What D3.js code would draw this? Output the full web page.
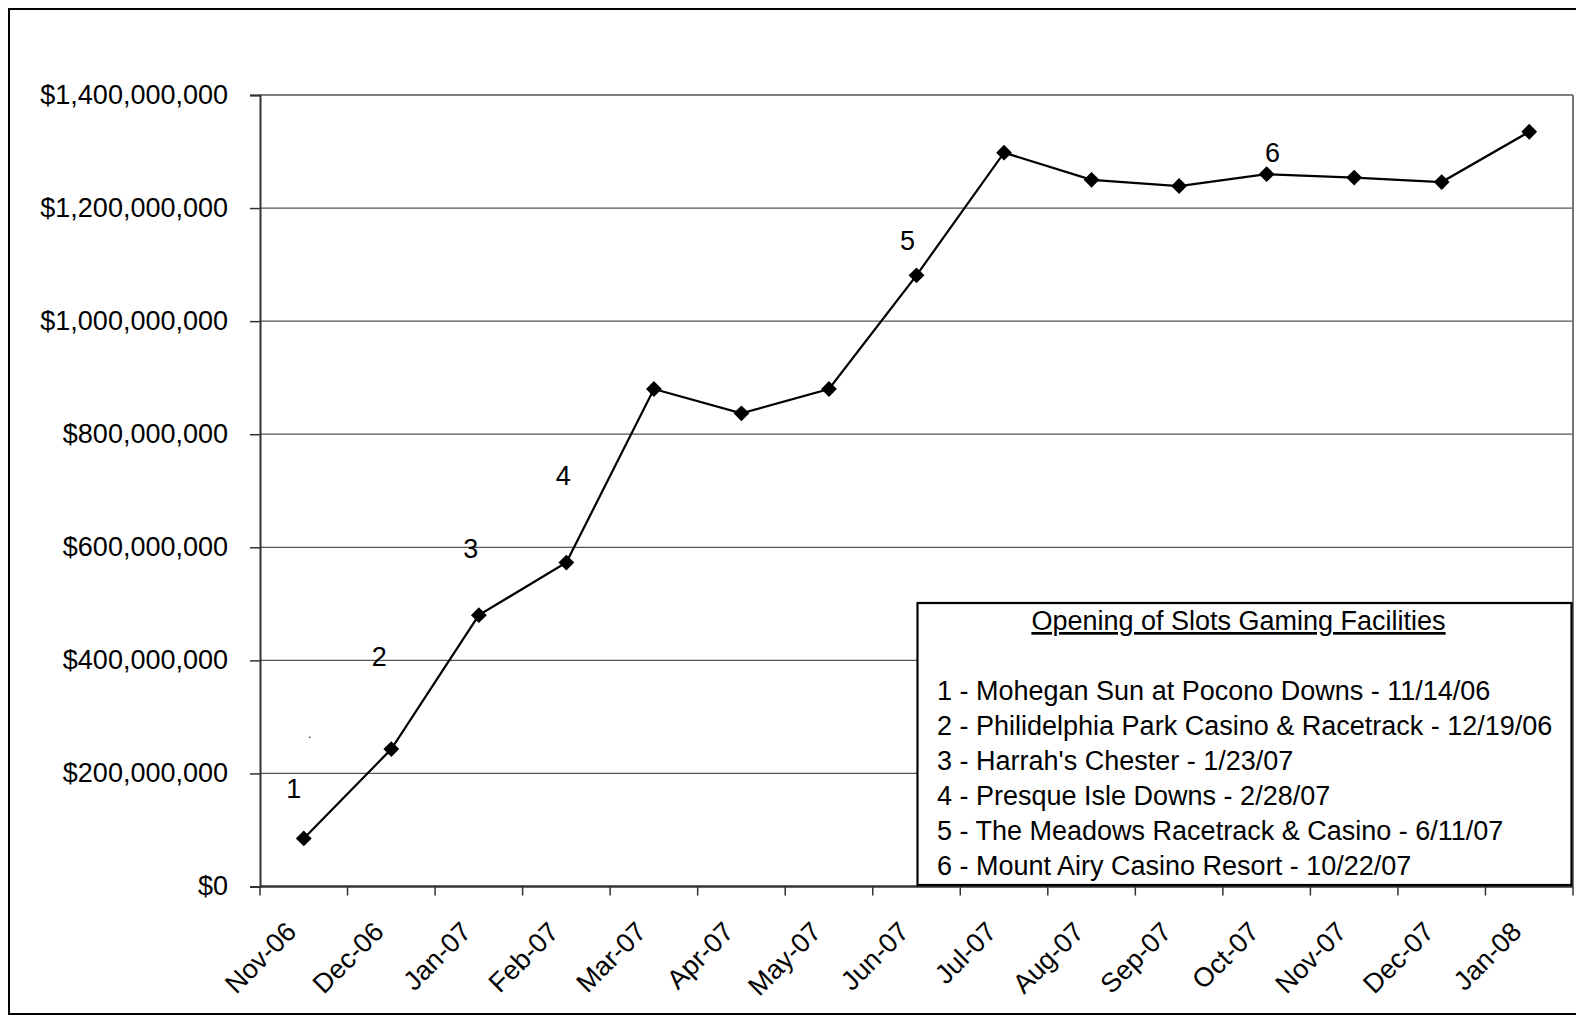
<!DOCTYPE html>
<html>
<head>
<meta charset="utf-8">
<script src="https://cdn.jsdelivr.net/npm/d3@7/dist/d3.min.js"></script>
<style>
  html, body { margin: 0; padding: 0; background: #fff; }
  svg { display: block; font-family: "Liberation Sans", Arial, sans-serif; }
</style>
</head>
<body>
<svg id="chart" width="1576" height="1016"></svg>
<script>
// Monthly slot machine wagering (handle), Pennsylvania
const months = ["Nov-06","Dec-06","Jan-07","Feb-07","Mar-07","Apr-07","May-07","Jun-07",
                "Jul-07","Aug-07","Sep-07","Oct-07","Nov-07","Dec-07","Jan-08"];
const handle = [85e6, 243e6, 480e6, 573e6, 880e6, 837e6, 880e6, 1081e6,
                1298e6, 1250e6, 1239e6, 1260e6, 1254e6, 1246e6, 1335e6];
const yTicks = [0, 200e6, 400e6, 600e6, 800e6, 1000e6, 1200e6, 1400e6];

// Facility opening numbers: month they sit in and the value level of their baseline
const openingMonth = ["Nov-06","Dec-06","Jan-07","Feb-07","Jun-07","Oct-07"];
const openingLabel = ["1","2","3","4","5","6"];
const openingLevel = [157e6, 390e6, 581e6, 710e6, 1126e6, 1282e6];
const openingShift = [-10, -12, -8, -3, -9, 6]; // px nudge from the month centre

const legendTitle = "Opening of Slots Gaming Facilities";
const legendItems = [
  "1 - Mohegan Sun at Pocono Downs - 11/14/06",
  "2 - Philidelphia Park Casino & Racetrack - 12/19/06",
  "3 - Harrah's Chester - 1/23/07",
  "4 - Presque Isle Downs - 2/28/07",
  "5 - The Meadows Racetrack & Casino - 6/11/07",
  "6 - Mount Airy Casino Resort - 10/22/07"
];

const svg = d3.select("#chart");
const plot = { left: 260, right: 1573, top: 95, bottom: 886.5 };
const fontSize = 27;

// outer frame
svg.append("rect").attr("x", 9).attr("y", 9).attr("width", 1572).attr("height", 1005)
  .attr("fill", "none").attr("stroke", "#000").attr("stroke-width", 2);

const x = d3.scaleBand().domain(months).range([plot.left, plot.right]).padding(0);
const y = d3.scaleLinear().domain([0, 1400e6]).range([plot.bottom, plot.top]);

// gridlines
svg.append("g").selectAll("line").data(yTicks.slice(1)).join("line")
  .attr("x1", plot.left).attr("x2", plot.right)
  .attr("y1", d => y(d)).attr("y2", d => y(d))
  .attr("stroke", "#555").attr("stroke-width", 1.3);

// plot area right border
svg.append("line").attr("x1", plot.right).attr("x2", plot.right)
  .attr("y1", plot.top).attr("y2", plot.bottom)
  .attr("stroke", "#777").attr("stroke-width", 2);

// y axis
const yAxis = d3.axisLeft(y).tickValues(yTicks).tickSize(10).tickPadding(22)
  .tickFormat(d => "$" + d3.format(",")(d));
const gy = svg.append("g").attr("transform", `translate(${plot.left},0)`).call(yAxis);
gy.select(".domain").attr("stroke", "#333").attr("stroke-width", 2);
gy.selectAll(".tick line").attr("stroke", "#333").attr("stroke-width", 1.5);
gy.selectAll(".tick text").attr("font-size", fontSize).attr("fill", "#000")
  .attr("dy", "0.3em")
  .attr("font-family", "Liberation Sans, Arial, sans-serif");

// x axis: ticks sit on category boundaries
const boundaries = d3.range(months.length + 1).map(i => plot.left + i * x.step());
const gx = svg.append("g");
gx.append("line").attr("x1", plot.left).attr("x2", plot.right)
  .attr("y1", plot.bottom).attr("y2", plot.bottom)
  .attr("stroke", "#333").attr("stroke-width", 2.5);
gx.selectAll("line.tk").data(boundaries).join("line").attr("class", "tk")
  .attr("x1", d => d).attr("x2", d => d)
  .attr("y1", plot.bottom).attr("y2", plot.bottom + 9)
  .attr("stroke", "#333").attr("stroke-width", 1.5);
gx.selectAll("text").data(months).join("text")
  .attr("transform", d => `translate(${x(d) + x.bandwidth() / 2 - 6},${plot.bottom + 47}) rotate(-45)`)
  .attr("text-anchor", "end")
  .attr("font-size", 27)
  .text(d => d);

// series line
const cx = d => x(d) + x.bandwidth() / 2;
const line = d3.line().x((d, i) => cx(months[i])).y(d => y(d));
svg.append("path").datum(handle).attr("d", line)
  .attr("fill", "none").attr("stroke", "#000").attr("stroke-width", 2.2);

// diamond markers
svg.append("g").selectAll("path").data(handle).join("path")
  .attr("d", d3.symbol().type(d3.symbolSquare).size(125))
  .attr("transform", (d, i) => `translate(${cx(months[i])},${y(d)}) rotate(45)`)
  .attr("fill", "#000");

// facility opening numbers
svg.append("g").selectAll("text").data(openingLabel).join("text")
  .attr("x", (d, i) => cx(openingMonth[i]) + openingShift[i])
  .attr("y", (d, i) => y(openingLevel[i]))
  .attr("text-anchor", "middle")
  .attr("font-size", 27)
  .text(d => d);

// stray dot near first point
svg.append("text").attr("x", cx(months[0]) + 6).attr("y", y(262e6))
  .attr("font-size", 12).attr("text-anchor", "middle").text(".");

// legend box
const lg = { x: 917.5, y: 603, w: 654, h: 282 };
svg.append("rect").attr("x", lg.x).attr("y", lg.y).attr("width", lg.w).attr("height", lg.h)
  .attr("fill", "#fff").attr("stroke", "#000").attr("stroke-width", 2.2);
svg.append("text").attr("x", lg.x + lg.w / 2 - 6).attr("y", 630)
  .attr("text-anchor", "middle").attr("font-size", fontSize)
  .attr("text-decoration", "underline").text(legendTitle);
svg.append("g").selectAll("text").data(legendItems).join("text")
  .attr("x", 937).attr("y", (d, i) => 700 + i * 35)
  .attr("font-size", fontSize).text(d => d);
</script>
</body>
</html>
